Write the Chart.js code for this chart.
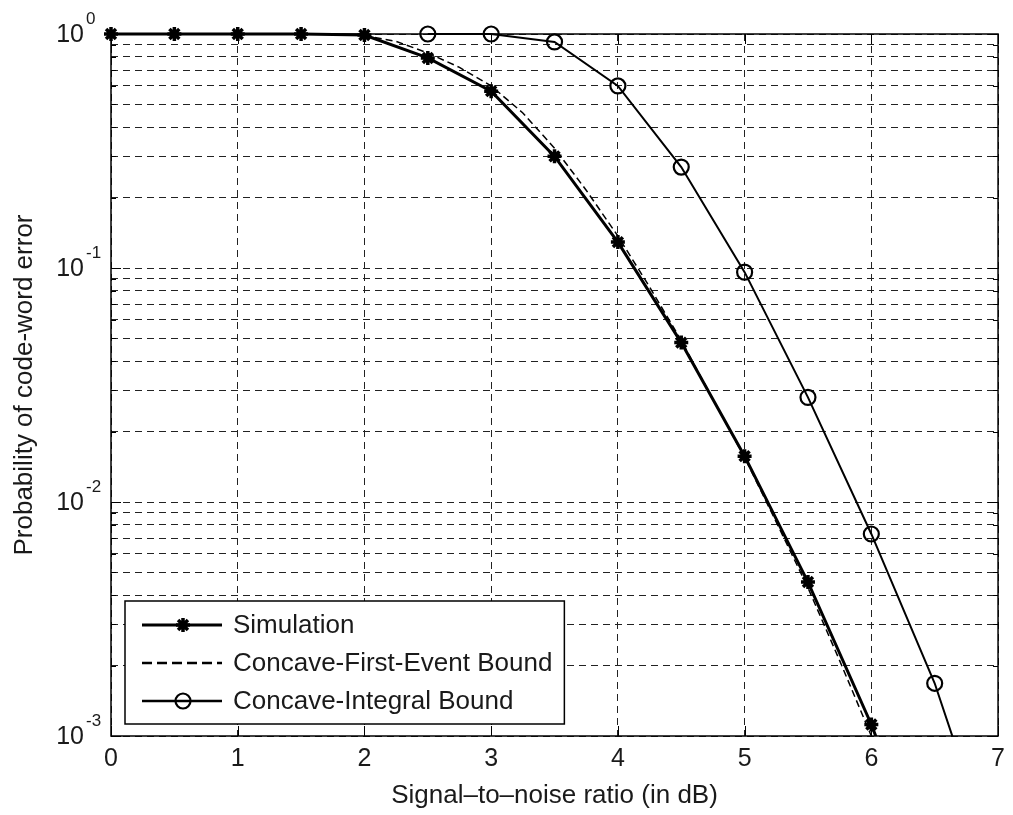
<!DOCTYPE html>
<html><head><meta charset="utf-8">
<script src="https://cdn.jsdelivr.net/npm/chart.js@4.4.1/dist/chart.umd.min.js"></script>
<style>html,body{margin:0;padding:0;background:#fff}canvas{display:block}</style>
</head><body>
<canvas id="c" width="1013" height="815"></canvas>
<script>
// ---- data ----
const simX = [0, 0.5, 1, 1.5, 2, 2.5, 3, 3.5, 4, 4.5, 5, 5.5, 6, 6.5];
const simY = [1, 1, 1, 1, 0.99, 0.79, 0.57, 0.30, 0.129, 0.048, 0.0157, 0.00455, 0.00112, 0.00022];

const feX = [0, 0.5, 1, 1.5, 1.75, 2, 2.25, 2.5, 2.75, 3, 3.25, 3.5, 3.75, 4, 4.25, 4.5, 4.75, 5, 5.25, 5.5, 5.75, 6, 6.25];
const feY = [1, 1, 1, 1, 1, 0.985, 0.93, 0.83, 0.72, 0.60, 0.46, 0.325, 0.215, 0.137, 0.083, 0.049, 0.0275, 0.0155, 0.0082, 0.0043, 0.0021, 0.00100, 0.00047];

const ciX = [2.5, 3, 3.5, 4, 4.5, 5, 5.5, 6, 6.5, 7];
const ciY = [1, 1, 0.925, 0.60, 0.27, 0.096, 0.028, 0.0073, 0.00168, 0.00026];

const xTicks = [0, 1, 2, 3, 4, 5, 6, 7];
const yDecades = [1, 0.1, 0.01, 0.001];
const yExponents = ['0', '-1', '-2', '-3'];
const yMinorMult = [2, 3, 4, 5, 6, 7, 8, 9];
const legendLabels = ['Simulation', 'Concave-First-Event Bound', 'Concave-Integral Bound'];
const xTitle = 'Signal\u2013to\u2013noise ratio (in dB)';
const yTitle = 'Probability of code-word error';

const FONT = "'Liberation Sans', Arial, Helvetica, sans-serif";
const TEXT = '#1a1a1a';
function pts(xs, ys) { return xs.map((x, i) => ({ x: x, y: ys[i] })); }

const yTickVals = [];
yDecades.forEach(d => { yTickVals.push(d); if (d < 1) yMinorMult.forEach(m => yTickVals.push(+(d * m).toPrecision(6))); });

const matlabAxes = {
  id: 'matlabAxes',
  beforeDatasetsDraw(chart) {
    const { ctx, chartArea: a, scales: { x, y } } = chart;
    ctx.save();
    ctx.strokeStyle = '#000';
    ctx.lineWidth = 1;
    ctx.setLineDash([]);
    ctx.beginPath();
    xTicks.forEach(v => {
      const px = Math.round(x.getPixelForValue(v)) + 0.5;
      ctx.moveTo(px, a.bottom); ctx.lineTo(px, a.bottom - 10);
      ctx.moveTo(px, a.top); ctx.lineTo(px, a.top + 10);
    });
    yTickVals.forEach(v => {
      const py = Math.round(y.getPixelForValue(v)) + 0.5;
      const L = yDecades.includes(v) ? 10 : 5;
      ctx.moveTo(a.left, py); ctx.lineTo(a.left + L, py);
      ctx.moveTo(a.right, py); ctx.lineTo(a.right - L, py);
    });
    ctx.stroke();
    ctx.lineWidth = 1.5;
    ctx.strokeRect(a.left, a.top, a.right - a.left, a.bottom - a.top);
    ctx.restore();
  },
  afterDatasetsDraw(chart) {
    const { ctx, chartArea: a, scales: { y } } = chart;
    ctx.save();
    // y tick labels 10^n
    yDecades.forEach((d, i) => {
      const py = y.getPixelForValue(d);
      ctx.fillStyle = TEXT;
      ctx.font = '25px ' + FONT;
      ctx.textAlign = 'right';
      ctx.textBaseline = 'middle';
      ctx.fillText('10', a.left - 27, py + 1);
      ctx.font = '17px ' + FONT;
      ctx.textAlign = 'left';
      ctx.fillText(yExponents[i], a.left - 25, py - 15);
    });
    // legend
    ctx.font = '26px ' + FONT;
    let maxW = 0;
    legendLabels.forEach(t => { maxW = Math.max(maxW, ctx.measureText(t).width); });
    const L = a.left + 14, H = 123, T = a.bottom - 12 - H;
    const W = 108 + maxW + 12;
    ctx.fillStyle = '#fff';
    ctx.fillRect(L, T, W, H);
    ctx.strokeStyle = '#000';
    ctx.lineWidth = 1.5;
    ctx.setLineDash([]);
    ctx.strokeRect(L, T, W, H);
    chart.data.datasets.forEach((ds, i) => {
      const cy = T + 24 + i * 38;
      ctx.save();
      ctx.strokeStyle = '#000';
      ctx.lineWidth = Math.max(ds.borderWidth, 2.5);
      ctx.setLineDash(ds.borderDash ? [10, 5] : []);
      ctx.beginPath(); ctx.moveTo(L + 17, cy); ctx.lineTo(L + 97, cy); ctx.stroke();
      ctx.setLineDash([]);
      if (ds.pointRadius > 0) {
        ctx.lineWidth = ds.pointBorderWidth;
        ctx.fillStyle = ds.pointBackgroundColor;
        ctx.strokeStyle = '#000';
        Chart.helpers.drawPoint(ctx, { pointStyle: ds.pointStyle, rotation: 0, radius: ds.pointRadius, borderWidth: ds.pointBorderWidth }, L + 58, cy);
      }
      ctx.restore();
      ctx.fillStyle = TEXT;
      ctx.font = '26px ' + FONT;
      ctx.textAlign = 'left';
      ctx.textBaseline = 'middle';
      ctx.fillText(legendLabels[i], L + 108, cy + 1);
    });
    ctx.restore();
  }
};

const gridCommon = { color: '#222', lineWidth: 1, drawTicks: false };

new Chart(document.getElementById('c'), {
  type: 'line',
  data: {
    datasets: [
      { label: legendLabels[0], data: pts(simX, simY), borderColor: '#000', borderWidth: 3,
        pointStyle: 'star', pointRadius: 7, pointBorderWidth: 3.5, pointBackgroundColor: '#000', pointBorderColor: '#000',
        clip: { left: false, top: false, right: 0, bottom: 0 }, order: 1 },
      { label: legendLabels[1], data: pts(feX, feY), borderColor: '#000', borderWidth: 1.5, borderDash: [7, 4],
        pointRadius: 0, clip: { left: false, top: false, right: 0, bottom: 0 }, order: 2 },
      { label: legendLabels[2], data: pts(ciX, ciY), borderColor: '#000', borderWidth: 2,
        pointStyle: 'circle', pointRadius: 7.5, pointBorderWidth: 2.2, pointBackgroundColor: 'rgba(0,0,0,0)', pointBorderColor: '#000',
        clip: { left: false, top: false, right: 0, bottom: 0 }, order: 0 }
    ]
  },
  options: {
    responsive: false, animation: false, devicePixelRatio: 1,
    layout: { padding: { top: 34, right: 10, left: 0, bottom: 0 } },
    plugins: { legend: { display: false }, tooltip: { enabled: false } },
    elements: { line: { tension: 0 } },
    scales: {
      x: {
        type: 'linear', min: 0, max: 7,
        ticks: { stepSize: 1, font: { family: FONT, size: 25 }, color: TEXT, padding: 8, maxRotation: 0, autoSkip: false },
        grid: gridCommon, border: { display: false, dash: [7, 5] },
        title: { display: true, text: xTitle, font: { family: FONT, size: 26 }, color: TEXT, padding: { top: 0, bottom: 4 } },
        afterFit(s) { s.height = 79; }
      },
      y: {
        type: 'logarithmic', min: 0.001, max: 1,
        afterBuildTicks(s) { s.ticks = yTickVals.map(v => ({ value: v })); },
        ticks: { display: false },
        grid: gridCommon, border: { display: false, dash: [7, 5] },
        title: { display: true, text: yTitle, font: { family: FONT, size: 26 }, color: TEXT, padding: { top: 9, bottom: 0 } },
        afterFit(s) { s.width = 111; }
      }
    }
  },
  plugins: [matlabAxes]
});
</script>
</body></html>
